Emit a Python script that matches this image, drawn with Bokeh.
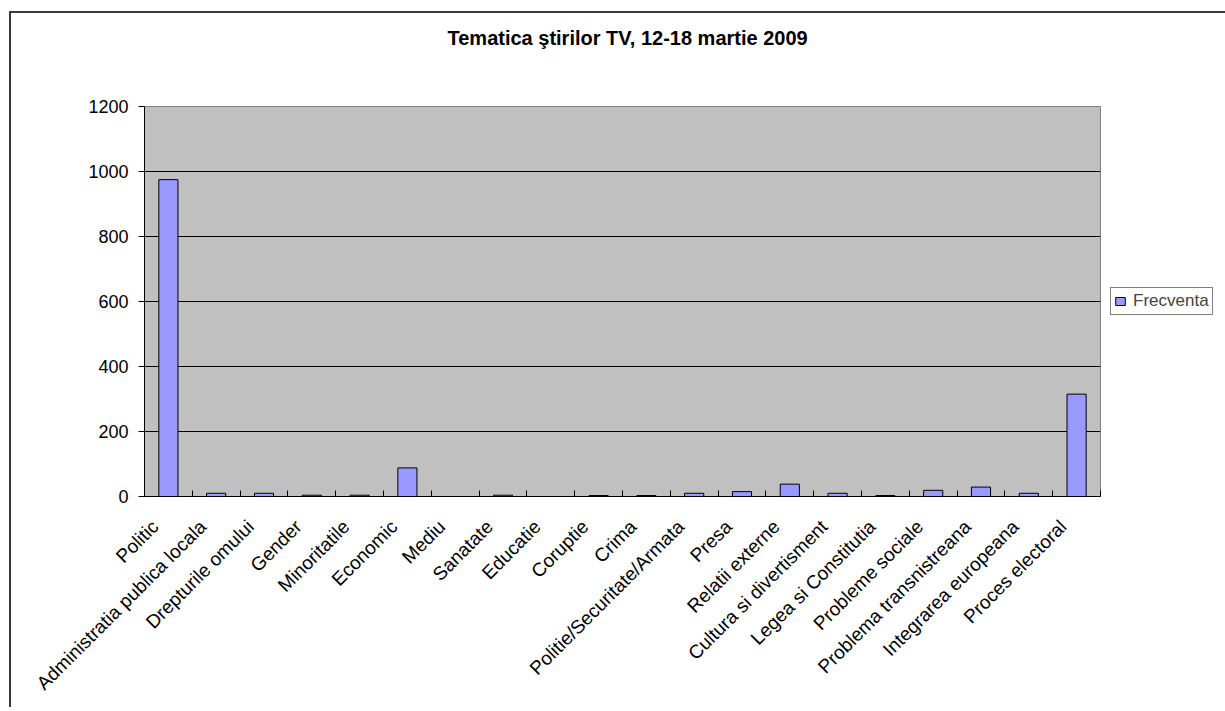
import math
from bokeh.plotting import figure
from bokeh.models import (Range1d, FixedTicker, Legend, LegendItem, ColumnDataSource, Title)
from bokeh.embed import file_html
from bokeh.resources import INLINE

# ---- data ----
categories = ["Politic", "Administratia publica locala", "Drepturile omului", "Gender",
              "Minoritatile", "Economic", "Mediu", "Sanatate", "Educatie", "Coruptie",
              "Crima", "Politie/Securitate/Armata", "Presa", "Relatii externe",
              "Cultura si divertisment", "Legea si Constitutia", "Probleme sociale",
              "Problema transnistreana", "Integrarea europeana", "Proces electoral"]
frecventa = [975, 10, 10, 4, 4, 88, 0, 4, 0, 3, 3, 10, 15, 38, 10, 3, 19, 29, 10, 315]
y_ticks = [0, 200, 400, 600, 800, 1000, 1200]
title_text = "Tematica ştirilor  TV, 12-18 martie 2009"
series_name = "Frecventa"

FONT = "Liberation Sans"
n = len(categories)
xs = list(range(n))
LABEL_SHIFT = -0.28   # Excel-style anchoring of the slanted category labels

p = figure(frame_width=956, frame_height=390, output_backend="svg", toolbar_location=None,
           x_range=Range1d(-0.5, n - 0.5), y_range=Range1d(0, 1200),
           min_border_left=133, min_border_right=123, min_border_top=93,
           min_border_bottom=213, title=None)
p.styles = {"margin-left": "11px", "margin-top": "13px",
            "box-shadow": "-2px -2px 0px 0px #3a3a3a"}
p.background_fill_color = "#C0C0C0"
p.border_fill_color = "white"
p.outline_line_color = "#808080"
p.outline_line_width = 1

# spacer between frame and title, then the title itself
p.add_layout(Title(text=" ", text_font_size="10px", standoff=38, text_color="white"), "above")
p.add_layout(Title(text=title_text, align="left", offset=303, vertical_align="top",
                   standoff=10, text_font=FONT, text_font_style="bold",
                   text_font_size="20px", text_color="black"), "above")

src = ColumnDataSource(dict(x=xs, y=frecventa))
bars = p.vbar(x="x", top="y", bottom=0, width=0.4, source=src,
              fill_color="#9999FF", line_color="black", line_width=1)

# x axis
label_pos = [i + LABEL_SHIFT for i in xs]
xa = p.xaxis[0]
xa.ticker = FixedTicker(ticks=label_pos, minor_ticks=[i - 0.5 for i in range(n + 1)])
xa.major_label_overrides = {pos: c for pos, c in zip(label_pos, categories)}
xa.major_tick_line_color = None
xa.major_tick_in = 0
xa.major_tick_out = 0
xa.minor_tick_line_color = "black"
xa.minor_tick_in = 6
xa.minor_tick_out = 0
xa.major_label_orientation = math.pi / 4
xa.major_label_standoff = 27
xa.major_label_text_font = FONT
xa.major_label_text_font_size = "19px"
xa.major_label_text_color = "black"
xa.axis_line_color = "black"

# y axis
ya = p.yaxis[0]
ya.ticker = FixedTicker(ticks=y_ticks)
ya.major_tick_out = 6
ya.major_tick_in = 0
ya.minor_tick_line_color = None
ya.major_label_standoff = 10
ya.major_label_text_font = FONT
ya.major_label_text_font_size = "18px"
ya.major_label_text_color = "black"
ya.axis_line_color = "black"
ya.major_tick_line_color = "black"

p.xgrid.grid_line_color = None
p.ygrid.grid_line_color = "black"
p.ygrid.grid_line_width = 1

legend = Legend(items=[LegendItem(label=series_name, renderers=[bars])],
                location="left", orientation="vertical",
                glyph_width=12, glyph_height=10, label_standoff=7,
                label_text_font=FONT, label_text_font_size="17px",
                label_height=17, padding=3, margin=10, spacing=0,
                border_line_color="black", border_line_width=1,
                background_fill_color="white", background_fill_alpha=1)
p.add_layout(legend, "right")

open("out.html", "w").write(file_html(p, INLINE))
